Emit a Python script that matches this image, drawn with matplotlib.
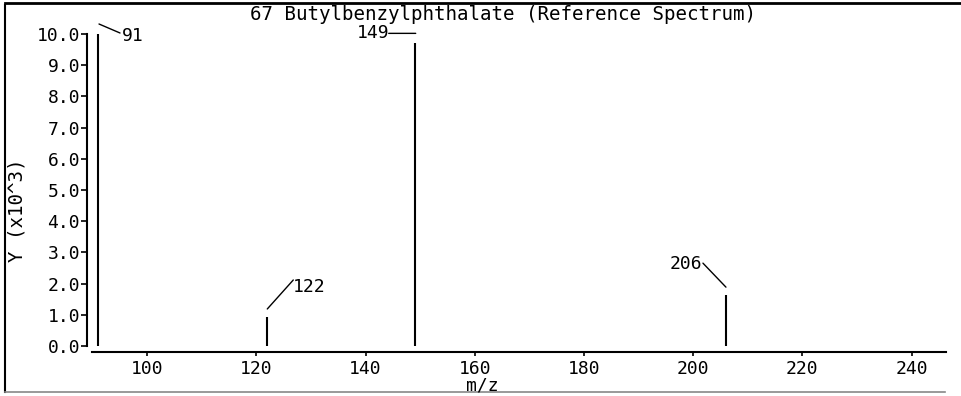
import matplotlib
matplotlib.use("Agg")
import matplotlib.pyplot as plt
from matplotlib.lines import Line2D
from matplotlib.transforms import offset_copy

# spectrum data
peak_mz = [91, 122, 149, 206]
peak_int = [10.0, 0.93, 9.70, 1.63]
peak_labels = ["91", "122", "149", "206"]

x_ticks = [100, 120, 140, 160, 180, 200, 220, 240]
y_ticks = [0.0, 1.0, 2.0, 3.0, 4.0, 5.0, 6.0, 7.0, 8.0, 9.0, 10.0]

TITLE = "67 Butylbenzylphthalate (Reference Spectrum)"

W, H = 962, 396
FONT = "DejaVu Sans Mono"
FS = 13
FS_BIG = 13.8

plt.rcParams["font.family"] = FONT

fig = plt.figure(figsize=(W / 100, H / 100), dpi=100)
ax = fig.add_axes([92 / W, (H - 346) / H, 854 / W, 312 / H])

ax.vlines(peak_mz, 0, peak_int, colors="black", linewidth=1.5)

ax.set_xlim(89.9, 246.3)
ax.set_ylim(0, 10.0)
ax.set_xticks(x_ticks)
ax.set_yticks(y_ticks)
ax.set_yticklabels([f"{v:.1f}" for v in y_ticks])
ax.tick_params(axis="both", labelsize=FS, colors="black", width=1.2)
ax.tick_params(axis="y", length=4, pad=1)
ax.tick_params(axis="x", length=3, pad=3)

for s in ["top", "right"]:
    ax.spines[s].set_visible(False)
ax.spines["left"].set_position(("outward", 3.6))
ax.spines["bottom"].set_position(("outward", 4.3))
ax.spines["left"].set_linewidth(1.5)
ax.spines["bottom"].set_linewidth(1.5)

# peak label leaders (pixel offsets from peak top: start, end, text pos, ha)
geom = {
    "91":  ((1, 10), (22, 1), (24, -2), "left"),
    "122": ((0, 8), (26, 37), (26, 30), "left"),
    "149": ((1, 10), (-26, 10), (-25, 10), "right"),
    "206": ((0, 8), (-23, 32), (-24, 31), "right"),
}
for mz, h, lab in zip(peak_mz, peak_int, peak_labels):
    (sx, sy), (ex, ey), (tx, ty), ha = geom[lab]
    start_tr = offset_copy(ax.transData, fig=fig, x=sx, y=sy, units="dots")
    ax.annotate("", xy=(mz, h), xycoords=start_tr,
                xytext=(ex - sx, ey - sy), textcoords="offset pixels",
                arrowprops=dict(arrowstyle="-", color="black", lw=1,
                                shrinkA=0, shrinkB=0),
                annotation_clip=False)
    ax.annotate(lab, xy=(mz, h), xytext=(tx, ty), textcoords="offset pixels",
                ha=ha, va="center", fontsize=FS, annotation_clip=False)

fig.text(503 / W, 1 - 15 / H, TITLE, ha="center", va="center", fontsize=FS_BIG)
fig.text(17 / W, 1 - 210 / H, "Y (x10^3)", rotation=90, ha="center",
         va="center", fontsize=FS_BIG)
fig.text(482 / W, 1 - 385 / H, "m/z", ha="center", va="center", fontsize=FS)

# outer frame
fig.add_artist(Line2D([5 / W, 5 / W], [1 - 5 / H, 1 - 392 / H],
                      transform=fig.transFigure, color="black", lw=1.5))
fig.add_artist(Line2D([5 / W, 1.0], [1 - 3 / H, 1 - 3 / H],
                      transform=fig.transFigure, color="black", lw=2))
fig.add_artist(Line2D([5 / W, 945 / W], [1 - 392 / H, 1 - 392 / H],
                      transform=fig.transFigure, color="#888888", lw=1.2))

fig.savefig("out.png", dpi=100)
